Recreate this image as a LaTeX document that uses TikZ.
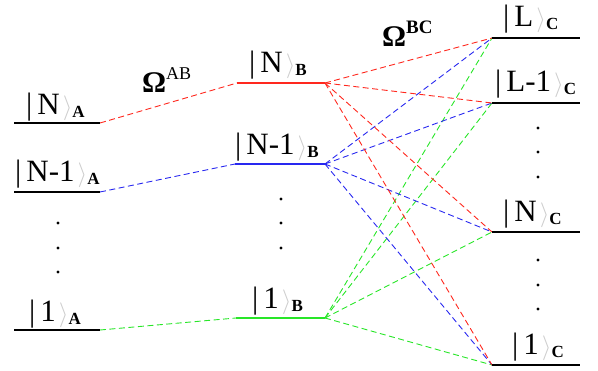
\documentclass[tikz,border=0pt]{standalone}
\usepackage{fontspec}
\setmainfont{Liberation Serif}
\definecolor{lred}{RGB}{255,40,30}
\definecolor{lblue}{RGB}{40,40,240}
\definecolor{lgreen}{RGB}{40,230,40}
\newcommand{\ketlab}[2]{\fontsize{31}{31}\selectfont\textbar\hspace{5pt}#1\hspace{3pt}\raisebox{0.5pt}{\color{gray!40}\fontsize{27}{27}\selectfont$\rangle$}{\fontsize{17}{17}\selectfont\bfseries\raisebox{-3pt}{#2}}}
\tikzset{
  level/.style={line width=2.4pt, black},
  lab/.style={anchor=base west, inner sep=0pt},
  conn/.style={line width=0.9pt, dash pattern=on 6pt off 3.5pt},
  dotmark/.style={circle, fill=black, inner sep=0pt, minimum size=3.2pt},
}
\begin{document}
\begin{tikzpicture}[x=1pt,y=-1pt]
\useasboundingbox (0,0) rectangle (598,371);
% A levels
\coordinate (aNl) at (14,123);  \coordinate (aNr) at (100,123);
\coordinate (aMl) at (14,192);  \coordinate (aMr) at (100,192);
\coordinate (a1l) at (14,330);  \coordinate (a1r) at (100,330);
% B levels
\coordinate (bNl) at (237,83);  \coordinate (bNr) at (325,83);
\coordinate (bMl) at (235,164); \coordinate (bMr) at (325,164);
\coordinate (b1l) at (236,318); \coordinate (b1r) at (325,318);
% C levels
\coordinate (cLl) at (492,38);  \coordinate (cLr) at (580,38);
\coordinate (cKl) at (492,103); \coordinate (cKr) at (580,103);
\coordinate (cNl) at (492,232); \coordinate (cNr) at (580,232);
\coordinate (c1l) at (492,365); \coordinate (c1r) at (580,365);
% connectors A -> B
\draw[conn, lred]   (aNr) -- (bNl);
\draw[conn, lblue]  (aMr) -- (bMl);
\draw[conn, lgreen] (a1r) -- (b1l);
% connectors B -> C
\foreach \c in {cLl,cKl,cNl,c1l} {
  \draw[conn, lgreen] (b1r) -- (\c);
  \draw[conn, lblue]  (bMr) -- (\c);
  \draw[conn, lred]   (bNr) -- (\c);
}
% level lines
\draw[level] (aNl) -- (aNr);
\draw[level] (aMl) -- (aMr);
\draw[level] (a1l) -- (a1r);
\draw[level, lred, line width=2pt]   (bNl) -- (bNr);
\draw[level, lblue, line width=2pt]  (bMl) -- (bMr);
\draw[level, lgreen, line width=2pt] (b1l) -- (b1r);
\draw[level] (cLl) -- (cLr);
\draw[level] (cKl) -- (cKr);
\draw[level] (cNl) -- (cNr);
\draw[level] (c1l) -- (c1r);
% labels
\node[lab] (tNA) at (26,115) {\ketlab{N}{A}};
\node[lab] (tMA) at (15,182) {\ketlab{N-1}{A}};
\node[lab] (t1A) at (29,322) {\ketlab{1}{A}};
\node[lab] (tNB) at (249,73) {\ketlab{N}{B}};
\node[lab] (tMB) at (235,155) {\ketlab{N-1}{B}};
\node[lab] (t1B) at (252,309) {\ketlab{1}{B}};
\node[lab] (tLC) at (503,27) {\ketlab{L}{C}};
\node[lab] (tKC) at (495,92) {\ketlab{L-1}{C}};
\node[lab] (tNC) at (503,222) {\ketlab{N}{C}};
\node[lab] (t1C) at (512,355) {\ketlab{1}{C}};
% Omega labels
\node[lab] (oAB) at (142,93) {\fontsize{30}{30}\selectfont\bfseries Ω\raisebox{13pt}{\fontsize{18}{18}\selectfont\mdseries AB}};
\node[lab] (oBC) at (382,47) {\fontsize{30}{30}\selectfont\bfseries Ω\raisebox{13pt}{\fontsize{19}{19}\selectfont BC}};
% dots
\foreach \y in {223,248,272} \node[dotmark] at (58,\y) {};
\foreach \y in {199,223,248} \node[dotmark] at (281,\y) {};
\foreach \y in {128,152,177,260,285,309} \node[dotmark] at (538,\y) {};
\end{tikzpicture}
\end{document}
